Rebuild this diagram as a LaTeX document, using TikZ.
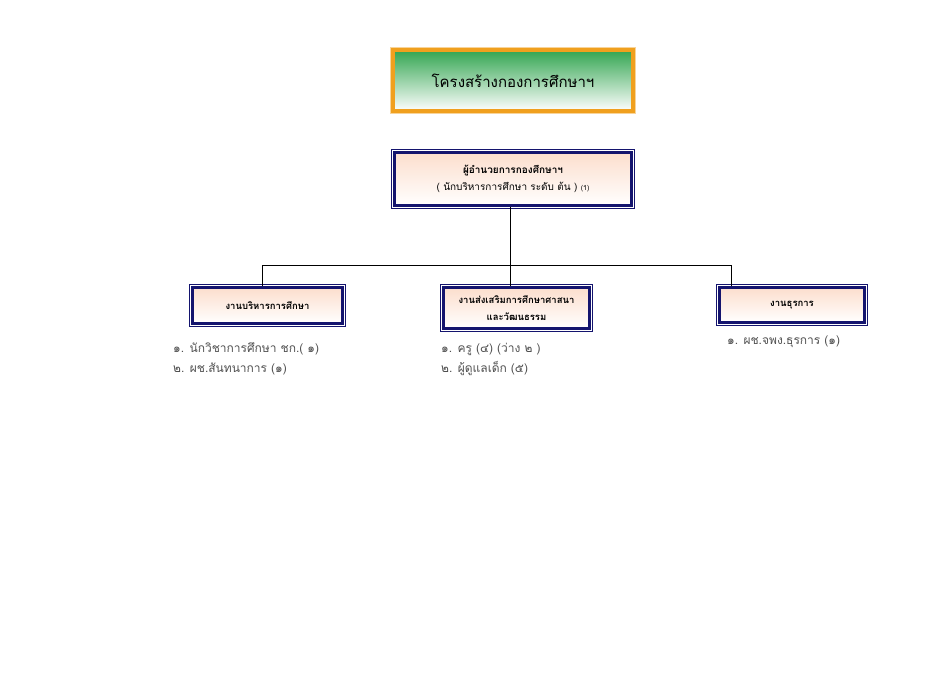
\documentclass[tikz,border=0pt]{standalone}
\usepackage{fontspec}
\setmainfont[Script=Thai]{Loma}
\definecolor{cor_navy}{RGB}{20,20,110}
\definecolor{cor_green}{RGB}{50,165,80}
\definecolor{cor_orange}{RGB}{240,160,30}
\definecolor{cor_peach}{RGB}{252,222,205}
\definecolor{cor_text}{RGB}{80,80,80}

\begin{document}
\begin{tikzpicture}[x=1pt,y=-1pt]
        \tikzset{
            titulo/.style={
                draw=cor_orange,
                line width=3.5pt,
                top color=cor_green,
                bottom color=white,
                minimum width=240pt,
                minimum height=61pt
            },
            caixa/.style={
                draw=cor_navy,
                line width=3pt,
                top color=cor_peach,
                bottom color=white,
                align=center,
                font=\bfseries\fontsize{9.5}{17}\selectfont
            },
            lista/.style={
                anchor=west,
                text=cor_text,
                inner sep=0pt,
                font=\fontsize{12}{14}\selectfont
            }
        }
        \useasboundingbox (0,0) rectangle (950,672);

        \node[titulo] (title) at (513,80.5) {\fontsize{15}{18}\selectfont โครงสร้างกองการศึกษาฯ};
        \draw[cor_orange!45, line width=0.8pt] ([shift={(-0.4,-0.4)}]title.north west) rectangle ([shift={(0.4,0.4)}]title.south east);

        \node[caixa, minimum width=237pt, minimum height=53pt] (dir) at (513,179)
            {\fontsize{10}{23}\selectfont ผู้อำนวยการกองศึกษาฯ\\
             \mdseries\fontsize{10}{12}\selectfont ( นักบริหารการศึกษา ระดับ ต้น ) {\fontsize{7}{8}\selectfont (1)}};

        \node[caixa, minimum width=150pt, minimum height=36pt] (admin) at (267.5,305.5) {งานบริหารการศึกษา};
        \node[caixa, minimum width=146pt, minimum height=41pt] (relig) at (516.5,308) {งานส่งเสริมการศึกษาศาสนา\\และวัฒนธรรม};
        \node[caixa, minimum width=145pt, minimum height=35pt] (office) at (792,305) {งานธุรการ};

        \foreach \n in {dir,admin,relig,office} { %MOLDURA FINA
            \draw[cor_navy, line width=0.8pt] ([shift={(-1.5,-1.5)}]\n.north west) rectangle ([shift={(1.5,1.5)}]\n.south east);
        }

        \coordinate (busL) at (262,265);
        \coordinate (busM) at (510,265);
        \coordinate (busR) at (731,265);
        \draw[black, line width=0.6pt] (busM |- dir.south) -- (busM);
        \draw[black, line width=0.6pt] (busL) -- (busR);
        \draw[black, line width=0.6pt] (busL) -- (busL |- admin.north);
        \draw[black, line width=0.6pt] (busM) -- (busM |- relig.north);
        \draw[black, line width=0.6pt] (busR) -- (busR |- office.north);

        \node[lista] (admin1) at (173,349) {๑. นักวิชาการศึกษา ชก.( ๑)};
        \node[lista] (admin2) at (173,369) {๒. ผช.สันทนาการ (๑)};
        \node[lista] (relig1) at (441,349) {๑. ครู (๔) (ว่าง ๒ )};
        \node[lista] (relig2) at (441,369) {๒. ผู้ดูแลเด็ก (๕)};
        \node[lista] (office1) at (727,342) {๑. ผช.จพง.ธุรการ (๑)};

    \end{tikzpicture}
\end{document}
